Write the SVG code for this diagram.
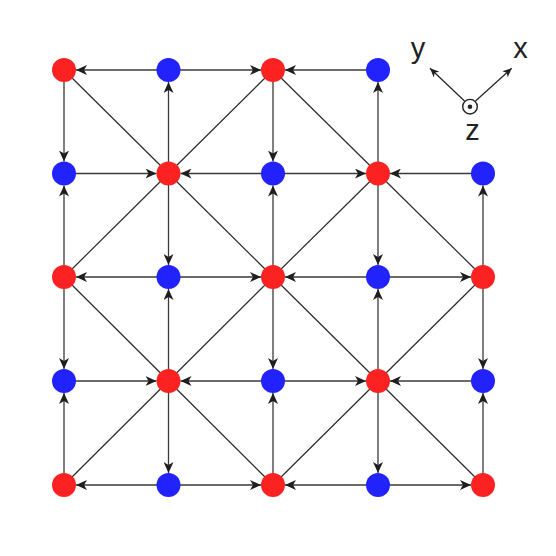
<svg xmlns="http://www.w3.org/2000/svg" width="556" height="556" viewBox="0 0 556 556">
<defs>
<style>
.r{fill:#fd2222}
.b{fill:#2222fc}
.e{stroke:#3a3a3a;stroke-width:1.3;fill:none;marker-end:url(#ah)}
.d{stroke:#2a2a2a;stroke-width:1.2;fill:none}
.ax{stroke:#222;stroke-width:1.2;fill:none;marker-end:url(#ahs)}
.t{font-family:"Liberation Sans",Arial,sans-serif;font-size:29px;fill:#222}
</style>
<marker id="ah" markerUnits="userSpaceOnUse" markerWidth="12" markerHeight="10" refX="11" refY="5" orient="auto">
<path d="M0,0 L11,5 L0,10 L3,5 z" fill="#1e1e1e"/>
</marker>
<marker id="ahs" markerUnits="userSpaceOnUse" markerWidth="10" markerHeight="8" refX="9" refY="4" orient="auto">
<path d="M0,0 L9,4 L0,8 L2.5,4 z" fill="#1e1e1e"/>
</marker>
</defs>
<rect width="556" height="556" fill="#fff"/>
<g id="connectors">
<!-- diagonals -->
<line class="d" x1="64" y1="70" x2="168.5" y2="173.5"/>
<line class="d" x1="273" y1="70" x2="168.5" y2="173.5"/>
<line class="d" x1="273" y1="70" x2="378" y2="173.5"/>
<line class="d" x1="168.5" y1="173.5" x2="64" y2="277"/>
<line class="d" x1="168.5" y1="173.5" x2="273" y2="277"/>
<line class="d" x1="378" y1="173.5" x2="273" y2="277"/>
<line class="d" x1="378" y1="173.5" x2="483" y2="277"/>
<line class="d" x1="64" y1="277" x2="168.5" y2="381"/>
<line class="d" x1="273" y1="277" x2="168.5" y2="381"/>
<line class="d" x1="273" y1="277" x2="378" y2="381"/>
<line class="d" x1="483" y1="277" x2="378" y2="381"/>
<line class="d" x1="168.5" y1="381" x2="64" y2="485"/>
<line class="d" x1="168.5" y1="381" x2="273" y2="485"/>
<line class="d" x1="378" y1="381" x2="273" y2="485"/>
<line class="d" x1="378" y1="381" x2="483" y2="485"/>
<!-- horizontal -->
<line class="e" x1="168.5" y1="70" x2="76" y2="70"/>
<line class="e" x1="168.5" y1="70" x2="261" y2="70"/>
<line class="e" x1="378" y1="70" x2="285" y2="70"/>
<line class="e" x1="64" y1="173.5" x2="156.5" y2="173.5"/>
<line class="e" x1="273" y1="173.5" x2="180.5" y2="173.5"/>
<line class="e" x1="273" y1="173.5" x2="366" y2="173.5"/>
<line class="e" x1="483" y1="173.5" x2="390" y2="173.5"/>
<line class="e" x1="168.5" y1="277" x2="76" y2="277"/>
<line class="e" x1="168.5" y1="277" x2="261" y2="277"/>
<line class="e" x1="378" y1="277" x2="285" y2="277"/>
<line class="e" x1="378" y1="277" x2="471" y2="277"/>
<line class="e" x1="64" y1="381" x2="156.5" y2="381"/>
<line class="e" x1="273" y1="381" x2="180.5" y2="381"/>
<line class="e" x1="273" y1="381" x2="366" y2="381"/>
<line class="e" x1="483" y1="381" x2="390" y2="381"/>
<line class="e" x1="168.5" y1="485" x2="76" y2="485"/>
<line class="e" x1="168.5" y1="485" x2="261" y2="485"/>
<line class="e" x1="378" y1="485" x2="285" y2="485"/>
<line class="e" x1="378" y1="485" x2="471" y2="485"/>
<!-- vertical -->
<line class="e" x1="64" y1="70" x2="64" y2="161.5"/>
<line class="e" x1="64" y1="277" x2="64" y2="185.5"/>
<line class="e" x1="64" y1="277" x2="64" y2="369"/>
<line class="e" x1="64" y1="485" x2="64" y2="393"/>
<line class="e" x1="168.5" y1="173.5" x2="168.5" y2="82"/>
<line class="e" x1="168.5" y1="173.5" x2="168.5" y2="265"/>
<line class="e" x1="168.5" y1="381" x2="168.5" y2="289"/>
<line class="e" x1="168.5" y1="381" x2="168.5" y2="473"/>
<line class="e" x1="273" y1="70" x2="273" y2="161.5"/>
<line class="e" x1="273" y1="277" x2="273" y2="185.5"/>
<line class="e" x1="273" y1="277" x2="273" y2="369"/>
<line class="e" x1="273" y1="485" x2="273" y2="393"/>
<line class="e" x1="378" y1="173.5" x2="378" y2="82"/>
<line class="e" x1="378" y1="173.5" x2="378" y2="265"/>
<line class="e" x1="378" y1="381" x2="378" y2="289"/>
<line class="e" x1="378" y1="381" x2="378" y2="473"/>
<line class="e" x1="483" y1="277" x2="483" y2="185.5"/>
<line class="e" x1="483" y1="277" x2="483" y2="369"/>
<line class="e" x1="483" y1="485" x2="483" y2="393"/>
</g>
<g id="nodes">
<g id="n00"><circle class="r" cx="64" cy="70" r="12"/></g>
<g id="n01"><circle class="b" cx="168.5" cy="70" r="12"/></g>
<g id="n02"><circle class="r" cx="273" cy="70" r="12"/></g>
<g id="n03"><circle class="b" cx="378" cy="70" r="12"/></g>
<g id="n10"><circle class="b" cx="64" cy="173.5" r="12"/></g>
<g id="n11"><circle class="r" cx="168.5" cy="173.5" r="12"/></g>
<g id="n12"><circle class="b" cx="273" cy="173.5" r="12"/></g>
<g id="n13"><circle class="r" cx="378" cy="173.5" r="12"/></g>
<g id="n14"><circle class="b" cx="483" cy="173.5" r="12"/></g>
<g id="n20"><circle class="r" cx="64" cy="277" r="12"/></g>
<g id="n21"><circle class="b" cx="168.5" cy="277" r="12"/></g>
<g id="n22"><circle class="r" cx="273" cy="277" r="12"/></g>
<g id="n23"><circle class="b" cx="378" cy="277" r="12"/></g>
<g id="n24"><circle class="r" cx="483" cy="277" r="12"/></g>
<g id="n30"><circle class="b" cx="64" cy="381" r="12"/></g>
<g id="n31"><circle class="r" cx="168.5" cy="381" r="12"/></g>
<g id="n32"><circle class="b" cx="273" cy="381" r="12"/></g>
<g id="n33"><circle class="r" cx="378" cy="381" r="12"/></g>
<g id="n34"><circle class="b" cx="483" cy="381" r="12"/></g>
<g id="n40"><circle class="r" cx="64" cy="485" r="12"/></g>
<g id="n41"><circle class="b" cx="168.5" cy="485" r="12"/></g>
<g id="n42"><circle class="r" cx="273" cy="485" r="12"/></g>
<g id="n43"><circle class="b" cx="378" cy="485" r="12"/></g>
<g id="n44"><circle class="r" cx="483" cy="485" r="12"/></g>
</g>
<g id="axes">
<line class="ax" x1="464.5" y1="101" x2="430" y2="68.3"/>
<line class="ax" x1="475.5" y1="101" x2="511.7" y2="68.3"/>
<circle cx="470" cy="106.7" r="7.3" fill="#fff" stroke="#222" stroke-width="1.4"/>
<circle cx="470" cy="106.7" r="2.3" fill="#222"/>
<text class="t" x="418" y="57.5" text-anchor="middle">y</text>
<text class="t" x="520.5" y="57.5" text-anchor="middle">x</text>
<text class="t" x="472.5" y="140" text-anchor="middle">z</text>
</g>
</svg>
